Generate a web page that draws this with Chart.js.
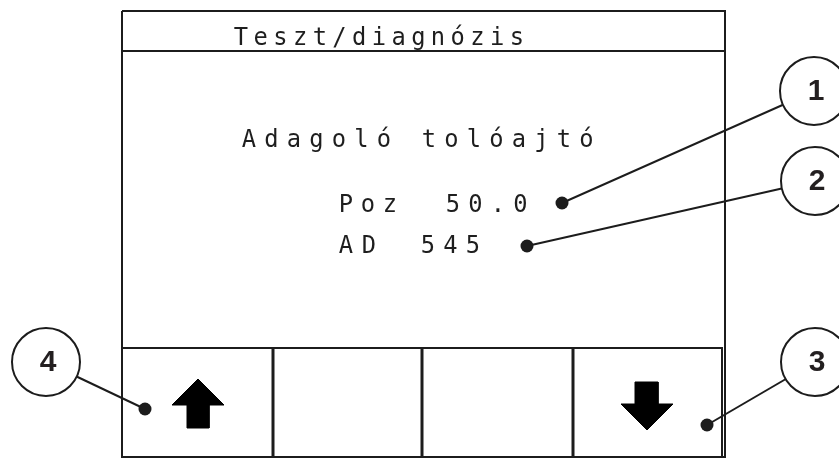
<!DOCTYPE html>
<html>
<head>
<meta charset="utf-8">
<script src="https://cdn.jsdelivr.net/npm/chart.js@4"></script>
<style>
  html, body { margin: 0; padding: 0; background: #fff; }
  #wrap { width: 839px; height: 459px; position: relative; }
</style>
</head>
<body>
<div id="wrap"><canvas id="screen"></canvas></div>
<script>
// --- Diagram data (screen units, 1 unit = 1 px of the 839x459 picture) ---
const screenLabels = ['Teszt/diagnózis', 'Adagoló tolóajtó', 'Poz', '50.0', 'AD', '545'];
const labelFirstX  = [241, 249, 346, 453, 346, 428];   // centre of first character
const labelBaseY   = [45, 147, 212, 212, 253, 253];
const labelStep    = [19.7, 22.5, 22, 22.5, 23, 22.5];

const calloutNumbers = ['1', '2', '3', '4'];
const calloutCenters = [[814, 91], [815, 181], [815, 362], [46, 362]];
const calloutTargets = [[562, 203], [527, 246], [707, 425], [145, 409]];

// screen frame pieces
const frameOutline  = [[122, 11], [725, 11], [725, 457], [122, 457], [122, 11]];
const headerRule    = [[122, 51], [725, 51]];
const buttonRowTop  = [[122, 348], [722, 348], [722, 457]];
const buttonDividers = [273, 422, 573];
const buttonRowSpan = [348, 457];

// arrow icons
const arrowUp   = [[198, 379], [224, 405], [209, 405], [209, 428], [187, 428], [187, 405], [172, 405], [198, 379]];
const arrowDown = [[635, 382], [658, 382], [658, 404], [673, 404], [647, 430], [621, 404], [635, 404], [635, 382]];

const INK = '#1c1c1c';
const pts = arr => arr.map(p => ({ x: p[0], y: p[1] }));

function lineSet(points, width, order) {
    return { data: pts(points), borderColor: INK, borderWidth: width, pointRadius: 0,
             fill: false, tension: 0, order: order, clip: false };
}

const datasets = [];
datasets.push(lineSet(frameOutline, 2, 10));
datasets.push(lineSet(headerRule, 2, 10));
datasets.push(lineSet(buttonRowTop, 2, 10));
buttonDividers.forEach(x => datasets.push(lineSet([[x, buttonRowSpan[0]], [x, buttonRowSpan[1]]], 3, 10)));

[arrowUp, arrowDown].forEach(a => datasets.push({
    data: pts(a), borderColor: '#000', backgroundColor: '#000', borderWidth: 1,
    pointRadius: 0, fill: 'shape', tension: 0, order: 9, clip: false
}));

// leader lines from the marked spot to the numbered circle
calloutTargets.forEach((t, i) => datasets.push(lineSet([t, calloutCenters[i]], 2, 8)));

// dots on the marked spots
datasets.push({ data: pts(calloutTargets), showLine: false, pointRadius: 6.5,
    pointBackgroundColor: INK, pointBorderColor: INK, pointBorderWidth: 0, order: 7, clip: false });

// numbered circles
datasets.push({ data: pts(calloutCenters), showLine: false, pointRadius: 34,
    pointBackgroundColor: '#fff', pointBorderColor: INK, pointBorderWidth: 2, order: 6, clip: false });

const textPlugin = {
    id: 'screenText',
    afterDatasetsDraw(chart) {
        const { ctx, scales: { x, y } } = chart;
        ctx.save();
        ctx.fillStyle = '#1e1e1e';
        ctx.textAlign = 'center';
        ctx.textBaseline = 'alphabetic';
        ctx.font = '25px "DejaVu Sans Mono"';
        screenLabels.forEach((txt, i) => {
            [...txt].forEach((ch, k) => {
                const px = x.getPixelForValue(labelFirstX[i] + k * labelStep[i]);
                const py = y.getPixelForValue(labelBaseY[i]);
                ctx.save();
                ctx.translate(px, py);
                ctx.scale(0.95, 1);
                ctx.fillText(ch, 0, 0);
                ctx.restore();
            });
        });
        ctx.fillStyle = '#231f20';
        ctx.font = 'bold 30px "Liberation Sans"';
        ctx.textBaseline = 'middle';
        calloutNumbers.forEach((n, i) => {
            ctx.fillText(n, x.getPixelForValue(calloutCenters[i][0] + 2), y.getPixelForValue(calloutCenters[i][1] + 1));
        });
        ctx.restore();
    }
};

new Chart(document.getElementById('screen'), {
    type: 'line',
    data: { datasets: datasets },
    options: {
        responsive: true, maintainAspectRatio: false, animation: false,
        layout: { padding: 0, autoPadding: false },
        scales: {
            x: { type: 'linear', min: 0, max: 839, display: false },
            y: { type: 'linear', min: 0, max: 459, reverse: true, display: false }
        },
        plugins: { legend: { display: false }, tooltip: { enabled: false } },
        events: []
    },
    plugins: [textPlugin]
});
</script>
</body>
</html>
